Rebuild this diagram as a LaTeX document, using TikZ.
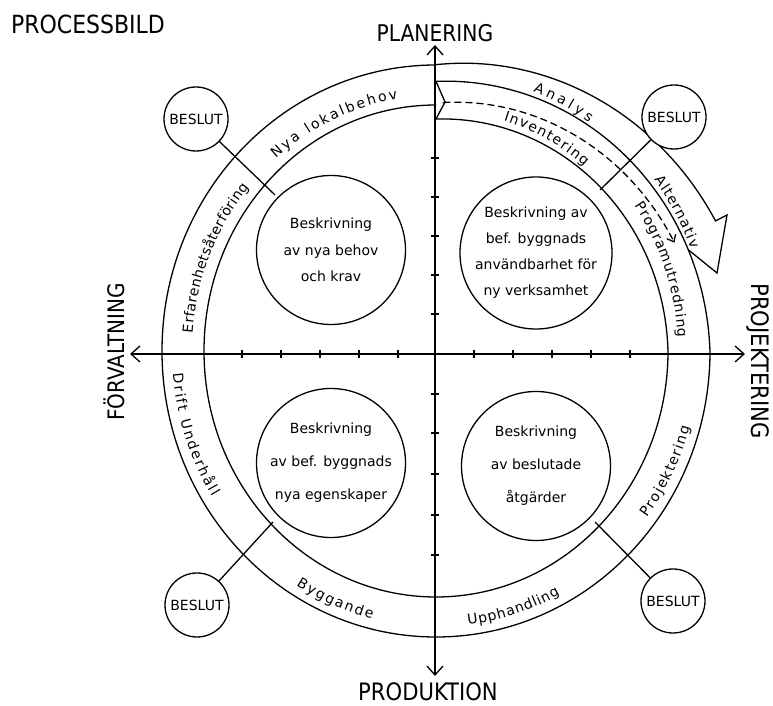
\documentclass[tikz,border=0pt]{standalone}
\usepackage{fontspec}
\setmainfont{DejaVu Sans}
\newfontfamily\axfont[FakeStretch=0.88]{DejaVu Sans}
\usetikzlibrary{arrows.meta,decorations.text,calc}
\newcommand{\ringtxt}{\fontsize{14}{16}\selectfont}
\begin{document}
\begin{tikzpicture}[x=1pt,y=1pt,
  ln/.style={line width=1.3pt},
  beslut/.style={circle,draw,line width=1.3pt,fill=white,minimum size=64pt,inner sep=0pt,font=\fontsize{14}{16}\selectfont},
  desc/.style={circle,draw,line width=1.3pt,minimum size=149pt,inner sep=0pt,align=center},
  axl/.style={font=\axfont\fontsize{#1}{26}\selectfont},
  biarrow/.style={line width=1.3pt,{Straight Barb[length=9pt,width=16pt]}-{Straight Barb[length=9pt,width=16pt]}},
  ringtext/.style={decorate,decoration={text along path,text align={fit to path},text={|\ringtxt|#1}}}
]
\useasboundingbox (0,0) rectangle (773,706);

% axes
\coordinate (vt) at (435,661); \coordinate (vb) at (435,30);
\coordinate (hl) at (130,352); \coordinate (hr) at (745,352);
\draw[biarrow] (vb) -- (vt);
\draw[biarrow] (hl) -- (hr);
\foreach \yy in {548,509,470,431,392,312,273,232,191,151} \draw[ln] (431,\yy) -- (439,\yy);
\foreach \xx in {242,281,320,359,398,474,513,552,591,630} \draw[ln] (\xx,348) -- (\xx,356);

\node[axl=23] (plan) at (435,673) {PLANERING};
\node[axl=24] (prod) at (428,14) {PRODUKTION};
\node[axl=22.7,rotate=90] (forv) at (114,354) {FÖRVALTNING};
\node[axl=24,rotate=-90] (proj) at (758,345) {PROJEKTERING};
\node[axl=25] (title) at (88,682) {PROCESSBILD};

\begin{scope}[shift={(436,355)}]
  % outer and inner ring (left and bottom)
  \draw[ln] (0:274pt and 286pt) arc[start angle=0,end angle=-270,x radius=274pt,y radius=286pt];
  \draw[ln] (0:232pt and 246pt) arc[start angle=0,end angle=-270,x radius=232pt,y radius=246pt];
  % big arrow outer edge with head
  \coordinate (barb) at (291,136);
  \coordinate (tipA) at (281,78);
  \coordinate (inA) at (252.3,101.2);
  \draw[ln,line join=miter] plot[domain=90:24,samples=60] ({(306-32*(\x-24)/66)*cos(\x)},{1.045*(306-32*(\x-24)/66)*sin(\x)}) -- (barb) -- (tipA) -- (inA);
  % outer ring on right side
  \draw[ln] plot[domain=90:0,samples=60] ({(274-16*\x/90)*cos(\x)},{1.045*(274-16*\x/90)*sin(\x)});
  % inner ring on right side
  \draw[ln] plot[domain=90:0,samples=60] ({(232-10*\x/90)*cos(\x)},{1.045*(232-10*\x/90)*sin(\x)});
  % notch
  \coordinate (n1) at (0,269.6); \coordinate (n2) at (9,249); \coordinate (n3) at (0,232);
  \draw[ln] (n1) -- (n2) -- (n3);
  % dashed arrow
  \draw[ln,dash pattern=on 7pt off 4pt,-{Straight Barb[length=6pt,width=10pt]}] (n2) -- plot[domain=88:23.5,samples=50] ({(238+22*(88-\x)/64.5)*cos(\x)},{1.045*(238+22*(88-\x)/64.5)*sin(\x)});

  % ring texts clockwise
  \path[ringtext={Nya lokalbehov}] (131:244pt and 255pt) arc[start angle=131,end angle=99,x radius=244pt,y radius=255pt];
  \path[ringtext={Erfarenhetsåterföring}] (176:244pt and 255pt) arc[start angle=176,end angle=140,x radius=244pt,y radius=255pt];
  \path[ringtext={Programutredning}] (35:242pt and 253pt) arc[start angle=35,end angle=3,x radius=242pt,y radius=253pt];
  \path[ringtext={Analys}] (68.7:267pt and 279pt) arc[start angle=68.7,end angle=55,x radius=267pt,y radius=279pt];
  \path[ringtext={Inventering}] (73:231pt and 241pt) arc[start angle=73,end angle=50,x radius=231pt,y radius=241pt];
  \path[ringtext={Alternativ}] (37:273pt and 285pt) arc[start angle=37,end angle=21,x radius=273pt,y radius=285pt];
  % ring texts counterclockwise
  \path[ringtext={Drift Underhåll}] (184.7:264pt and 276pt) arc[start angle=184.7,end angle=212,x radius=264pt,y radius=276pt];
  \path[ringtext={Byggande}] (238:264pt and 276pt) arc[start angle=238,end angle=256,x radius=264pt,y radius=276pt];
  \path[ringtext={Upphandling}] (277:264pt and 276pt) arc[start angle=277,end angle=298,x radius=264pt,y radius=276pt];
  \path[ringtext={Projektering}] (323:264pt and 276pt) arc[start angle=323,end angle=344,x radius=264pt,y radius=276pt];
\end{scope}

% description circles
\node[desc,font=\fontsize{14}{26.5}\selectfont] (d1) at (331,456) {Beskrivning\\av nya behov\\och krav};
\node[desc,font=\fontsize{14}{26}\selectfont] (d2) at (536,453) {Beskrivning av\\bef. byggnads\\användbarhet för\\ny verksamhet};
\node[desc,font=\fontsize{14}{33}\selectfont] (d3) at (331,243) {Beskrivning\\av bef. byggnads\\nya egenskaper};
\node[desc,font=\fontsize{14}{33}\selectfont] (d4) at (536,240) {Beskrivning\\av beslutade\\åtgärder};

% BESLUT circles and connectors
\node[beslut] (b1) at (196,587) {BESLUT};
\node[beslut] (b2) at (674,589) {BESLUT};
\node[beslut] (b3) at (197,101) {BESLUT};
\node[beslut] (b4) at (673,105) {BESLUT};
\coordinate (c1) at (275,511);
\coordinate (c2) at (600,516);
\coordinate (c3) at (273,184);
\coordinate (c4) at (595,184);
\draw[ln] (b1) -- (c1);
\draw[ln] (b2) -- (c2);
\draw[ln] (b3) -- (c3);
\draw[ln] (b4) -- (c4);
\end{tikzpicture}
\end{document}
